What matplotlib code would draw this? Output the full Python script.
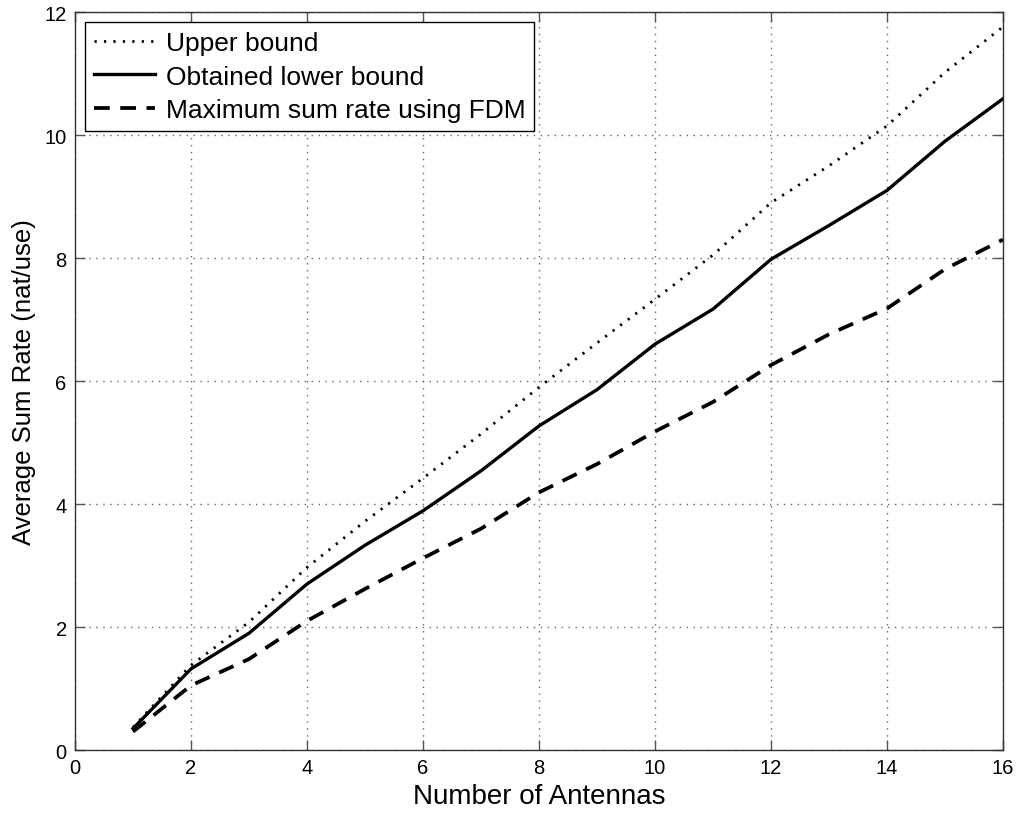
import numpy as np
from matplotlib import pyplot as plt

plt.rcParams["font.family"] = ["Liberation Sans", "DejaVu Sans"]

# number of antennas
antennas = np.arange(1, 17)

# average sum rate (nat/use)
upper_bound = [0.37, 1.38, 2.08, 2.97, 3.72, 4.42, 5.14, 5.90,
               6.62, 7.33, 8.05, 8.90, 9.50, 10.15, 11.02, 11.76]
lower_bound = [0.35, 1.32, 1.90, 2.70, 3.33, 3.89, 4.54, 5.27,
               5.86, 6.60, 7.17, 7.98, 8.53, 9.10, 9.90, 10.59]
fdm_rate = [0.30, 1.05, 1.48, 2.10, 2.62, 3.12, 3.60, 4.19,
            4.65, 5.18, 5.66, 6.26, 6.76, 7.18, 7.82, 8.30]

fig = plt.figure(figsize=(10.18, 8.2), dpi=100)
ax = fig.add_axes([0.0737, 0.0841, 0.9116, 0.9000])

ax.plot(antennas, upper_bound, color="black", lw=2.0,
        linestyle=(0, (0.8, 2.6)), label="Upper bound")
ax.plot(antennas, lower_bound, color="black", lw=2.4,
        label="Obtained lower bound")
ax.plot(antennas, fdm_rate, color="black", lw=2.7,
        linestyle=(0, (4.2, 2.8)), label="Maximum sum rate using FDM")

ax.set_xlim(0, 16)
ax.set_ylim(0, 12)
ax.set_xticks(range(0, 17, 2))
ax.set_yticks(range(0, 13, 2))
ax.tick_params(direction="in", length=7, width=1, top=True, right=True,
               labelsize=14.5, pad=6, color="#555555")
for s in ax.spines.values():
    s.set_linewidth(1.0)
    s.set_color("#333333")

ax.grid(True, color="#666666", linestyle=(0, (1, 4)), lw=1.0)

ax.set_xlabel("Number of Antennas", fontsize=20, labelpad=4)
ax.set_ylabel("Average Sum Rate (nat/use)", fontsize=18.5, labelpad=6)

leg = ax.legend(loc="upper left", fontsize=19, frameon=True, fancybox=False,
                edgecolor="black", framealpha=1, handlelength=2.3,
                handletextpad=0.4, borderpad=0.35, labelspacing=0.35,
                borderaxespad=0.38)
leg.get_frame().set_linewidth(1.0)

fig.savefig("out.png", dpi=100)
